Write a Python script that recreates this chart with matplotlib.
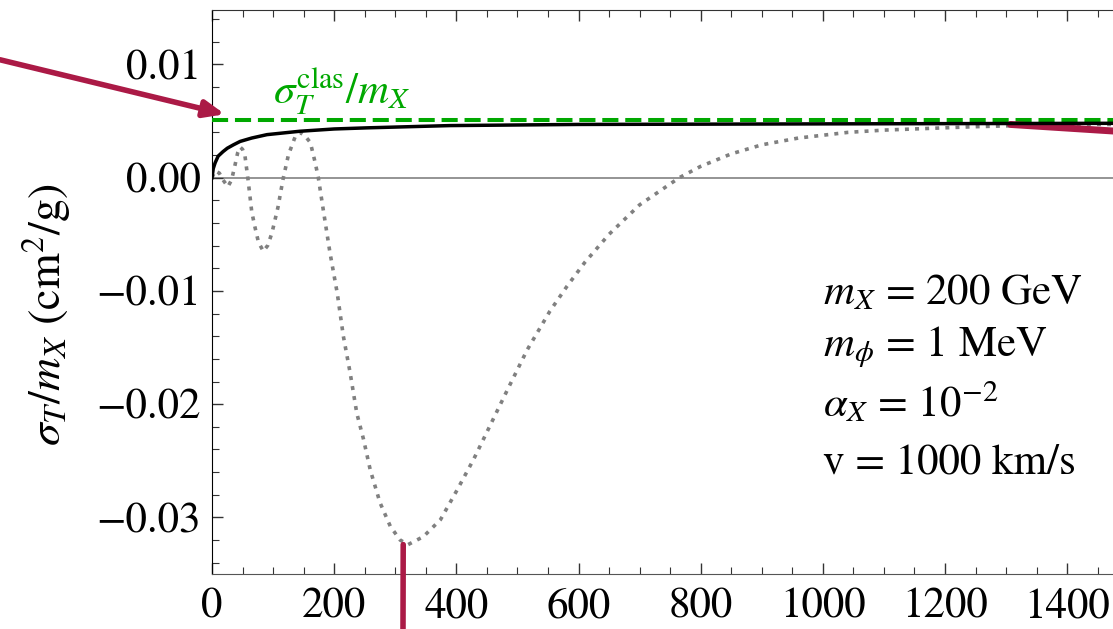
import numpy as np
import matplotlib.pyplot as plt
from matplotlib.ticker import MultipleLocator, FuncFormatter

plt.rcParams['font.family'] = 'STIXGeneral'
plt.rcParams['mathtext.fontset'] = 'stix'

# curves (y in cm^2/g)
x_full = [0, 2, 5, 10, 18, 25, 35, 46, 65, 90, 144, 200, 254, 390, 600, 1000, 1475]
y_full = [0.0, 0.0008, 0.0013, 0.0019, 0.0023, 0.0026, 0.0029, 0.0032, 0.0035,
          0.0038, 0.0041, 0.0043, 0.0044, 0.0046, 0.0047, 0.00475, 0.0048]

x_born = [0, 5, 12, 18, 26, 32, 38, 42, 46, 50, 54, 59, 65, 70, 76, 84, 91, 98,
          108, 116, 125, 136, 144, 152, 161, 169, 174, 182, 193, 205, 215, 226,
          237, 248, 259, 275, 292, 308, 321, 346, 374, 401, 428, 447, 483, 516,
          553, 581, 610, 650, 700, 765, 800, 850, 900, 960, 1041, 1100, 1149,
          1248, 1320, 1400, 1475]
y_born = [0.0, 0.0006, 0.0004, -0.0002, -0.0008, -0.0002, 0.0012, 0.0022, 0.0027,
          0.0025, 0.0019, -0.0002, -0.0030, -0.0043, -0.0057, -0.0065, -0.0060,
          -0.0049, -0.0026, -0.0002, 0.0020, 0.0036, 0.0040, 0.0037, 0.0031,
          0.0013, 0.0, -0.0028, -0.0066, -0.0102, -0.0140, -0.0172, -0.0208,
          -0.0231, -0.0258, -0.0287, -0.0308, -0.0320, -0.0324, -0.0317, -0.0302,
          -0.0276, -0.0249, -0.0228, -0.0188, -0.0152, -0.0118, -0.0096, -0.0075,
          -0.0050, -0.0024, 0.0, 0.0010, 0.0021, 0.0029, 0.0035, 0.0040, 0.0042,
          0.0043, 0.0045, 0.0046, 0.0047, 0.0047]

sigma_clas = 0.0051

params = [r'$m_X$ = 200 GeV', r'$m_\phi$ = 1 MeV', r'$\alpha_X$ = 10$^{-2}$',
          'v = 1000 km/s']
params_y = [-0.0112, -0.0158, -0.0211, -0.0261]

red = '#AB1A46'
fs = 31

fig = plt.figure(figsize=(11.13, 6.29), dpi=100)
ax = fig.add_axes([0.1905, 0.0874, 0.8095, 0.8966])

ax.axhline(0, color='#777777', lw=1.1, zorder=1)
ax.axhline(sigma_clas, color='#00A800', lw=2.9, dashes=(4, 1.7), zorder=3)
ax.plot(x_full, y_full, color='black', lw=2.5, zorder=4)
ax.plot(x_born, y_born, color='#808080', lw=2.6, dashes=(1.1, 1.7), zorder=2)

ax.set_xlim(0, 1475)
ax.set_ylim(-0.035, 0.0148)

ax.xaxis.set_major_locator(MultipleLocator(200))
ax.xaxis.set_minor_locator(MultipleLocator(50))
ax.yaxis.set_major_locator(MultipleLocator(0.01))
ax.yaxis.set_minor_locator(MultipleLocator(0.002))
ax.yaxis.set_major_formatter(FuncFormatter(
    lambda v, p: f'{v:.2f}'.replace('-', '\u2212') if abs(v) > 1e-9 else '0.00'))
ax.tick_params(which='both', direction='in', top=True, right=False,
               labelsize=fs, color='#333333')
ax.tick_params(which='major', length=8, width=1)
ax.tick_params(which='minor', length=5, width=0.8)
ax.tick_params(axis='x', pad=10)
ax.tick_params(axis='y', pad=8)
ax.spines['right'].set_visible(False)
ax.spines['bottom'].set_color('#555555')
ax.spines['top'].set_color('#333333')

ax.text(100, 0.0065, r'$\sigma_T^{\rm clas}/m_X$', color='#00A800', fontsize=fs,
        va='baseline', ha='left')
for s, yy in zip(params, params_y):
    ax.text(1000, yy, s, fontsize=fs, va='baseline', ha='left')

fig.text(0.042, 0.5, r'$\sigma_T/m_X$ (cm$^2$/g)', rotation=90, fontsize=33,
         va='center', ha='center')

# red pointers
ax.annotate('', xy=(21, 0.0056), xycoords='data', xytext=(0.0, 0.905),
            textcoords='figure fraction',
            arrowprops=dict(arrowstyle='-|>,head_length=1.2,head_width=0.5',
                            color=red, lw=4, shrinkA=0, shrinkB=0))
ax.annotate('', xy=(313, -0.0324), xycoords='data', xytext=(403 / 1113, 0.0),
            textcoords='figure fraction',
            arrowprops=dict(arrowstyle='-', color=red, lw=4, shrinkA=0, shrinkB=0))
ax.annotate('', xy=(1307, 0.0047), xycoords='data', xytext=(1.0, 1 - 131 / 629),
            textcoords='figure fraction',
            arrowprops=dict(arrowstyle='-', color=red, lw=5, shrinkA=0, shrinkB=0))

fig.savefig('out.png', dpi=100)
